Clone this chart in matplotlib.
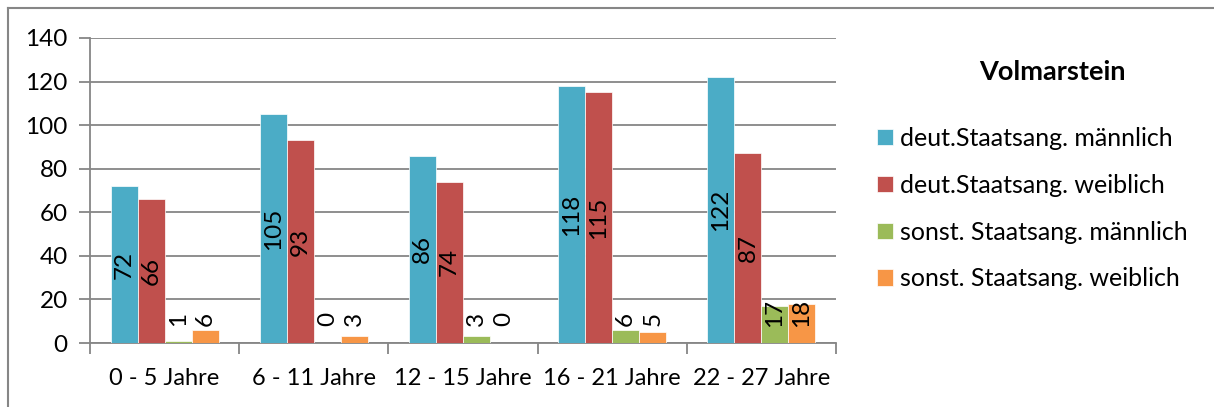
import matplotlib
matplotlib.use('Agg')
import matplotlib.pyplot as plt
from matplotlib.lines import Line2D
import numpy as np

categories = ["0 - 5 Jahre", "6 - 11 Jahre", "12 - 15 Jahre", "16 - 21 Jahre", "22 - 27 Jahre"]
series_names = ["deut.Staatsang. männlich", "deut.Staatsang. weiblich",
                "sonst. Staatsang. männlich", "sonst. Staatsang. weiblich"]
deut_m = [72, 105, 86, 118, 122]
deut_w = [66, 93, 74, 115, 87]
sonst_m = [1, 0, 3, 6, 17]
sonst_w = [6, 3, 0, 5, 18]
colors = ["#4BACC6", "#C0504D", "#9BBB59", "#F79646"]
y_ticks = [0, 20, 40, 60, 80, 100, 120, 140]
chart_title = "Volmarstein"

series = [deut_m, deut_w, sonst_m, sonst_w]

plt.rcParams['font.family'] = ['Lato', 'DejaVu Sans']
FS = 17
GRAY = '#868686'

W, H = 1214, 407
fig = plt.figure(figsize=(W / 100, H / 100), dpi=100)
ax = fig.add_axes([90 / W, 1 - 343 / H, 746 / W, 305 / H])

x = np.arange(len(categories))
bw = 27 / 149.2
offsets = (np.arange(len(series)) - (len(series) - 1) / 2) * bw

ymax = y_ticks[-1]
px_per_unit = 305 / ymax
floor_units = 18 / px_per_unit
digit_half_units = 6.2 / px_per_unit

for i, (vals, c, name) in enumerate(zip(series, colors, series_names)):
    ax.bar(x + offsets[i], vals, bw, color=c, edgecolor='white', linewidth=0.5,
           label=name, zorder=3)
    for xi, v in zip(x, vals):
        s = str(v)
        yc = max(v / 2, floor_units + len(s) * digit_half_units)
        ax.text(xi + offsets[i], yc, s, rotation=90, ha='center', va='center',
                fontsize=FS + 0.5, color='black', zorder=4)

ax.set_xlim(-0.5, len(categories) - 0.5)
ax.set_ylim(0, ymax)
ax.set_yticks(y_ticks)
ax.set_yticklabels([str(t) for t in y_ticks])
ax.set_xticks(x)
ax.set_xticklabels(categories)
ax.set_xticks(np.arange(len(categories) + 1) - 0.5, minor=True)
ax.tick_params(axis='x', which='major', length=0, pad=18, labelsize=FS)
ax.tick_params(axis='x', which='minor', length=8, width=1.3, color=GRAY, direction='out')
ax.tick_params(axis='y', which='major', length=8, width=1.3, color=GRAY, pad=8, labelsize=FS + 0.5)
ax.grid(axis='y', color=GRAY, linewidth=1.3, zorder=0)
ax.set_axisbelow(True)
for sp in ['top', 'right']:
    ax.spines[sp].set_visible(False)
for sp in ['left', 'bottom']:
    ax.spines[sp].set_color(GRAY)
    ax.spines[sp].set_linewidth(1.3)

fig.text(1052 / W, 1 - 72 / H, chart_title, ha='center', va='center',
         fontsize=19.5, fontweight='bold')

handles, labels = ax.get_legend_handles_labels()
fig.legend(handles, labels, loc='upper left', bbox_to_anchor=(877 / W, 1 - 127 / H),
           frameon=False, fontsize=18, handlelength=0.62, handleheight=0.62,
           handletextpad=0.3, labelspacing=0.95, borderaxespad=0, borderpad=0)

fig.add_artist(Line2D([8 / W, 1], [1 - 8 / H, 1 - 8 / H], color=GRAY, linewidth=1.5,
                      transform=fig.transFigure))
fig.add_artist(Line2D([8 / W, 8 / W], [1 - 8 / H, 0], color=GRAY, linewidth=1.5,
                      transform=fig.transFigure))

fig.savefig('out.png', dpi=100, facecolor='white')
